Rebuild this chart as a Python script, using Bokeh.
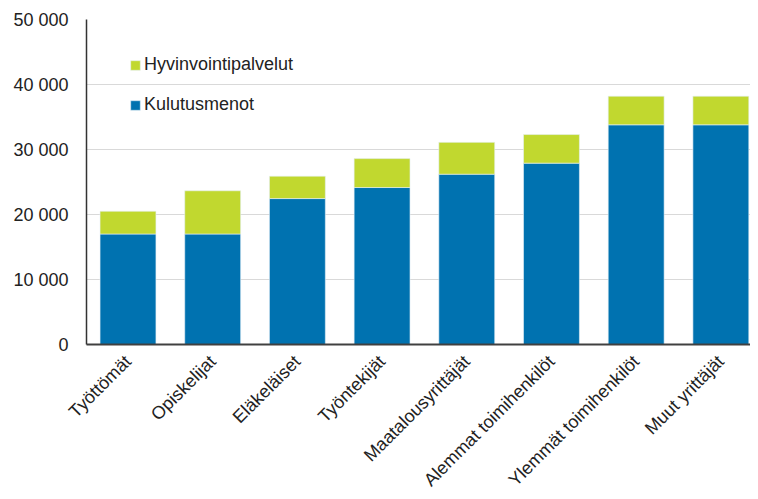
from bokeh.plotting import figure
from bokeh.models import ColumnDataSource, Range1d, FixedTicker, Legend, LegendItem
from bokeh.embed import file_html
from bokeh.resources import INLINE

categories = ["Työttömät", "Opiskelijat", "Eläkeläiset", "Työntekijät",
              "Maatalousyrittäjät", "Alemmat toimihenkilöt", "Ylemmät toimihenkilöt", "Muut yrittäjät"]
kulutusmenot = [17000, 17000, 22450, 24150, 26200, 27900, 33800, 33800]
hyvinvointipalvelut = [3500, 6650, 3450, 4450, 4900, 4400, 4400, 4400]
y_ticks = [0, 10000, 20000, 30000, 40000, 50000]
y_labels = ["0", "10 000", "20 000", "30 000", "40 000", "50 000"]

BLUE = "#0072b0"
GREEN = "#c1d82f"
FONT = "Liberation Sans"

xs = list(range(len(categories)))
src = ColumnDataSource(dict(x=xs, Kulutusmenot=kulutusmenot, Hyvinvointipalvelut=hyvinvointipalvelut))

p = figure(frame_width=664, frame_height=325, output_backend="svg", toolbar_location=None,
           x_range=Range1d(-0.49, 7.35), y_range=Range1d(0, 50000),
           min_border_left=86, min_border_right=0, min_border_top=19, min_border_bottom=0)
p.outline_line_color = None

rs = p.vbar_stack(["Kulutusmenot", "Hyvinvointipalvelut"], x="x", width=0.66, source=src,
                  color=[BLUE, GREEN], line_color="#e6f0f7", line_width=0.6)

legend = Legend(items=[LegendItem(label="Hyvinvointipalvelut", renderers=[rs[1]]),
                       LegendItem(label="Kulutusmenot", renderers=[rs[0]])],
                location=(43, 229), padding=0, margin=0, spacing=19,
                glyph_width=12, glyph_height=12, label_height=20, label_standoff=3,
                border_line_color=None, background_fill_alpha=0,
                label_text_font=FONT, label_text_font_size="18px", label_text_color="#222222")
p.add_layout(legend)

p.xgrid.grid_line_color = None
p.ygrid.grid_line_color = "#d9d9d9"
p.ygrid.grid_line_width = 1.2
p.ygrid.ticker = FixedTicker(ticks=y_ticks)

p.yaxis.ticker = FixedTicker(ticks=y_ticks)
p.yaxis.major_label_overrides = {t: l for t, l in zip(y_ticks, y_labels)}
p.yaxis.axis_line_color = "#333333"
p.yaxis.axis_line_width = 1.5
p.yaxis.major_tick_line_color = None
p.yaxis.major_tick_out = 0
p.yaxis.major_tick_in = 0
p.yaxis.minor_tick_line_color = None
p.yaxis.major_label_standoff = 18
p.yaxis.major_label_text_font = FONT
p.yaxis.major_label_text_font_size = "18px"
p.yaxis.major_label_text_color = "#222222"

p.xaxis.ticker = FixedTicker(ticks=xs)
p.xaxis.major_label_overrides = {x: c for x, c in zip(xs, categories)}
p.xaxis.major_label_orientation = 0.785398
p.xaxis.axis_line_color = "#404040"
p.xaxis.axis_line_width = 2
p.xaxis.major_tick_line_color = None
p.xaxis.major_tick_out = 0
p.xaxis.major_tick_in = 0
p.xaxis.minor_tick_line_color = None
p.xaxis.major_label_standoff = 14
p.xaxis.major_label_text_font = FONT
p.xaxis.major_label_text_font_size = "18px"
p.xaxis.major_label_text_color = "#222222"

open("out.html", "w").write(file_html(p, INLINE))
